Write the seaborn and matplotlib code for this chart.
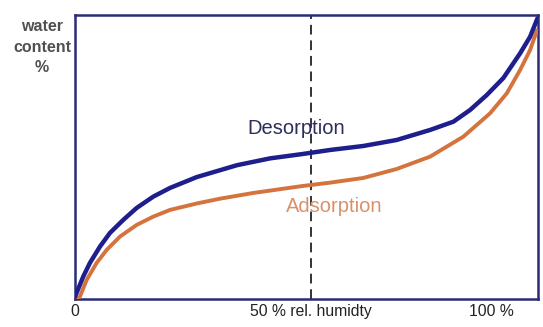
import matplotlib
matplotlib.use("Agg")
import matplotlib.pyplot as plt
import seaborn as sns
import pandas as pd

# Data (x: % rel. humidity, y: water content, relative scale)
desorption_x = [0, 1.79, 3.24, 5.40, 7.56, 10.43, 13.33, 16.91, 20.52, 26.28, 34.99, 42.12,
                49.24, 55.08, 62.27, 69.48, 76.67, 81.71, 85.31, 88.92, 92.50, 96.11, 98.27, 99.85]
desorption_y = [0.7, 7.85, 12.68, 18.42, 23.24, 27.82, 32.04, 36.02, 39.08, 42.9, 47.1, 49.5,
                51.06, 52.46, 53.87, 55.99, 59.51, 62.43, 66.55, 71.83, 77.82, 86.51, 92.36, 98.8]
adsorption_x = [0.43, 1.08, 2.53, 4.69, 6.85, 9.72, 13.33, 16.91, 20.52, 26.28, 31.32, 38.44,
                49.24, 55.08, 62.27, 69.48, 76.67, 83.86, 89.63, 93.24, 96.11, 98.27, 99.78]
adsorption_y = [0.0, 0.81, 6.69, 12.68, 17.25, 21.94, 26.06, 28.98, 31.34, 33.6, 35.3, 37.3,
                39.79, 40.95, 42.61, 45.77, 50.11, 57.15, 65.39, 72.43, 80.63, 87.68, 94.72]
tick_labels = ["0", "50 % rel. humidty", "100 %"]
ylabel_text = "water\ncontent\n%"
series_labels = ["Desorption", "Adsorption"]

sns.set_theme(style="white")
plt.rcParams["font.family"] = ["Liberation Sans", "DejaVu Sans"]

fig = plt.figure(figsize=(5.43, 3.27), dpi=100)
ax = fig.add_axes([0.138, 0.086, 0.853, 0.868])

des = pd.DataFrame({"x": desorption_x, "y": desorption_y})
ads = pd.DataFrame({"x": adsorption_x, "y": adsorption_y})

ax.axvline(51, color="#333333", lw=1.4, ls=(0, (5, 3)), zorder=1)
sns.lineplot(data=ads, x="x", y="y", ax=ax, color="#d4733d", lw=2.8, sort=False, zorder=3)
sns.lineplot(data=des, x="x", y="y", ax=ax, color="#1e1e8c", lw=3.2, sort=False, zorder=4)
for l in ax.lines:
    l.set_solid_joinstyle("round")
    l.set_solid_capstyle("round")

ax.set_xlim(0, 100)
ax.set_ylim(0, 100)
ax.set_xlabel("")
ax.set_ylabel("")
ax.set_yticks([])
ax.set_xticks([0, 51, 90])
ax.set_xticklabels(tick_labels, fontsize=11.3, color="#222222")
ax.tick_params(axis="x", length=0, pad=4)

for s in ax.spines.values():
    s.set_color("#2b2b78")
    s.set_linewidth(1.8)

ax.text(47.7, 60.2, series_labels[0], ha="center", va="center", fontsize=14.5, color="#2d2d5e")
ax.text(55.9, 32.4, series_labels[1], ha="center", va="center", fontsize=14.5, color="#d9916b")

fig.text(42 / 543, 1 - 47 / 327, ylabel_text, ha="center", va="center", fontsize=11.5,
         fontweight="bold", color="#505050", linespacing=1.45)

fig.savefig("out.png", dpi=100)
